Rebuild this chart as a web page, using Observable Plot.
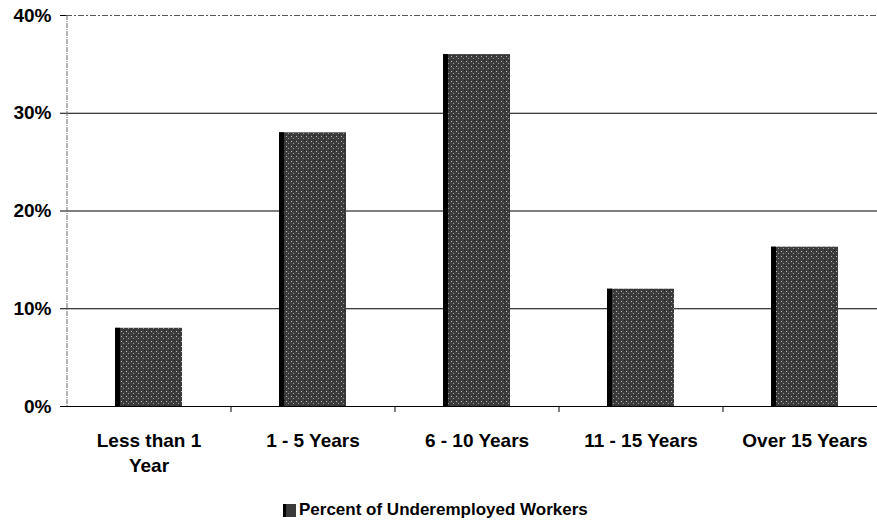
<!DOCTYPE html>
<html>
<head>
<meta charset="utf-8">
<script src="https://cdn.jsdelivr.net/npm/d3@7"></script>
<script src="https://cdn.jsdelivr.net/npm/@observablehq/plot@0.6"></script>
<style>
  html, body { margin: 0; padding: 0; background: #fff; }
  #chart { width: 877px; height: 480px; }
  #legend { position: relative; height: 43px; font-family: "Liberation Sans", Arial, sans-serif; font-weight: bold; font-size: 17px; color: #000; }
  #legend .item { position: absolute; left: 283px; top: 20px; display: flex; align-items: center; }
  #legend .sw { width: 13px; height: 13px; background: #3a3a3a; margin-right: 3px; border-left: 3px solid #000; box-sizing: border-box; }
</style>
</head>
<body>
<div id="chart"></div>
<div id="legend"><div class="item"><span class="sw"></span><span id="legtext"></span></div></div>
<script>
const categories = ["Less than 1 Year", "1 - 5 Years", "6 - 10 Years", "11 - 15 Years", "Over 15 Years"];
const tickLabels = ["Less than 1\nYear", "1 - 5 Years", "6 - 10 Years", "11 - 15 Years", "Over 15 Years"];
const values = [0.08, 0.28, 0.36, 0.12, 0.163];
const yTicks = [0, 0.1, 0.2, 0.3, 0.4];
const seriesName = "Percent of Underemployed Workers";

const data = categories.map((c, i) => ({category: c, value: values[i]}));
const labelOf = new Map(categories.map((c, i) => [c, tickLabels[i]]));

const chart = Plot.plot({
  width: 877,
  height: 480,
  marginLeft: 66,
  marginRight: 0,
  marginTop: 15,
  marginBottom: 74,
  style: {fontFamily: "'Liberation Sans', Arial, sans-serif", fontWeight: "bold", fontSize: "19px", color: "#000", background: "#fff", overflow: "visible"},
  x: {domain: categories, range: [66, 887], paddingInner: 0.59, paddingOuter: 0.295, label: null},
  y: {domain: [0, 0.4], ticks: yTicks, label: null},
  marks: [
    Plot.gridY(yTicks.filter(d => d > 0 && d < 0.4), {stroke: "#000", strokeOpacity: 1, strokeWidth: 1}),
    Plot.ruleY([0.4], {stroke: "#555", strokeDasharray: "6,2,2,2", strokeWidth: 1}),
    Plot.barY(data, {x: "category", y: "value", fill: "url(#stip)"}),
    Plot.barY(data, {x: "category", y: "value", fill: "#000", insetRight: 62}),
    Plot.ruleX([categories[0]], {dx: -82, stroke: "#666", strokeDasharray: "5,1,1,1", strokeWidth: 1}),
    Plot.ruleY([0], {stroke: "#000", strokeWidth: 1}),
    Plot.ruleX(categories.slice(1), {x: d => d, y1: 0, y2: 0, dx: -82, insetBottom: -6, stroke: "#000"}),
    Plot.axisY({ticks: yTicks, tickFormat: d => Math.round(d * 100) + "%", tickSize: 6, tickPadding: 9, fontSize: 19, fontWeight: "bold"}),
    Plot.axisX({tickSize: 0, tickPadding: 23, tickFormat: d => labelOf.get(d), fontSize: 19, fontWeight: "bold", lineHeight: 1.32})
  ]
});

const svg = d3.select(chart);
const defs = svg.insert("defs", ":first-child");
const pat = defs.append("pattern").attr("id", "stip").attr("patternUnits", "userSpaceOnUse").attr("width", 5).attr("height", 5);
pat.append("rect").attr("width", 5).attr("height", 5).attr("fill", "#3c3c3c");
pat.append("rect").attr("x", 1).attr("y", 1).attr("width", 1).attr("height", 1).attr("fill", "#bbb");
pat.append("rect").attr("x", 3).attr("y", 3).attr("width", 1).attr("height", 1).attr("fill", "#999");
pat.append("rect").attr("x", 4).attr("y", 0).attr("width", 1).attr("height", 1).attr("fill", "#222");
document.getElementById("chart").appendChild(chart);
document.getElementById("legtext").textContent = seriesName;
</script>
</body>
</html>
